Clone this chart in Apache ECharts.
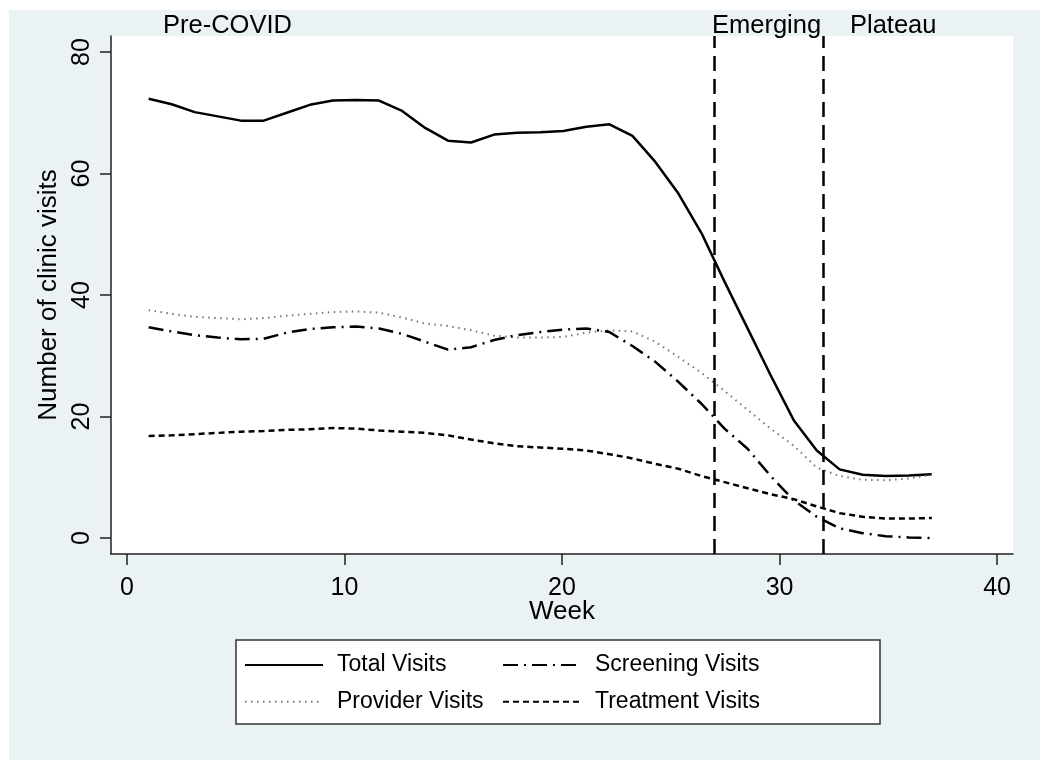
<!DOCTYPE html>
<html>
<head>
<meta charset="utf-8">
<title>Clinic visits by week</title>
<style>
    html, body { margin: 0; padding: 0; background: #fff; }
    #chart { width: 1050px; height: 769px; }
</style>
</head>
<body>
<div id="chart"></div>
<script src="https://cdn.jsdelivr.net/npm/echarts@6/dist/echarts.min.js"></script>
<script>
    // weeks (points are roughly 1.06 weeks apart)
    const weeks = [1.0, 2.06, 3.12, 4.18, 5.24, 6.29, 7.35, 8.41, 9.47, 10.53,
        11.59, 12.65, 13.71, 14.76, 15.82, 16.88, 17.94, 19.0, 20.06, 21.12,
        22.18, 23.24, 24.29, 25.35, 26.41, 27.47, 28.53, 29.59, 30.65, 31.71,
        32.76, 33.82, 34.88, 35.94, 37.0];

    const totalVisits = [72.3, 71.4, 70.1, 69.4, 68.7, 68.7, 70.0, 71.3, 72.0, 72.1,
        72.0, 70.3, 67.5, 65.4, 65.1, 66.4, 66.7, 66.8, 67.0, 67.7,
        68.1, 66.2, 61.9, 56.7, 50.2, 42.2, 34.5, 26.8, 19.4, 14.4,
        11.3, 10.4, 10.2, 10.3, 10.5];

    const providerVisits = [37.5, 36.9, 36.4, 36.2, 36.0, 36.2, 36.6, 36.9, 37.2, 37.3,
        37.1, 36.3, 35.3, 34.9, 34.2, 33.3, 33.0, 33.0, 33.1, 33.8,
        34.2, 34.0, 32.3, 29.8, 27.2, 24.2, 21.1, 18.0, 15.2, 11.6,
        10.2, 9.6, 9.5, 9.8, 10.4];

    const screeningVisits = [34.7, 34.0, 33.4, 33.0, 32.7, 32.8, 33.8, 34.4, 34.7, 34.8,
        34.5, 33.6, 32.3, 31.0, 31.4, 32.6, 33.4, 33.9, 34.3, 34.5,
        33.9, 31.6, 29.0, 25.7, 22.1, 18.0, 14.7, 10.2, 6.2, 3.5,
        1.6, 0.8, 0.3, 0.1, 0.0];

    const treatmentVisits = [16.8, 16.9, 17.1, 17.3, 17.5, 17.6, 17.8, 17.9, 18.1, 18.0,
        17.7, 17.5, 17.3, 16.9, 16.2, 15.6, 15.1, 14.9, 14.7, 14.4,
        13.8, 13.1, 12.2, 11.4, 10.2, 9.2, 8.2, 7.2, 6.4, 5.2,
        4.1, 3.5, 3.2, 3.2, 3.3];

    const xTicks = [0, 10, 20, 30, 40];
    const yTicks = [0, 20, 40, 60, 80];
    const phaseBreaks = [27, 32];

    const font = '"Liberation Sans", Arial, sans-serif';

    function pairs(ys) {
        return weeks.map((w, i) => [w, ys[i]]);
    }

    let myChart = echarts.init(document.getElementById('chart'));

    // the original legend uses a narrow face; a smaller size keeps the widths close
    let legendText = { fontFamily: font, fontSize: 23, lineHeight: 26, color: '#000', padding: [0, 0, 0, 9] };

    let option = {
        backgroundColor: '#ffffff',
        animation: false,
        grid: {
            left: 111,
            top: 36,
            right: 37,
            bottom: 215,
            show: true,
            backgroundColor: '#ffffff',
            borderWidth: 0
        },
        xAxis: {
            type: 'value',
            min: -0.73,
            max: 40.73,
            name: 'Week',
            nameLocation: 'middle',
            nameGap: 45,
            nameMoveOverlap: false,
            nameTextStyle: { fontFamily: font, fontSize: 26, color: '#000' },
            splitLine: { show: false },
            axisLine: { show: true, onZero: false, lineStyle: { color: '#222', width: 1.5 } },
            axisTick: { show: true, length: 11, customValues: xTicks, lineStyle: { color: '#222', width: 1.5 } },
            axisLabel: { customValues: xTicks, margin: 22, fontFamily: font, fontSize: 25, color: '#000' }
        },
        yAxis: {
            type: 'value',
            min: -2.63,
            max: 82.63,
            name: 'Number of clinic visits',
            nameLocation: 'middle',
            nameGap: 48,
            nameTextStyle: { fontFamily: font, fontSize: 26, color: '#000' },
            splitLine: { show: false },
            axisLine: { show: true, onZero: false, lineStyle: { color: '#222', width: 1.5 } },
            axisTick: { show: true, length: 11, customValues: yTicks, lineStyle: { color: '#222', width: 1.5 } },
            axisLabel: { customValues: yTicks, rotate: 90, margin: 16, fontFamily: font, fontSize: 25, color: '#000' }
        },
        legend: [{
            data: ['Total Visits', 'Provider Visits'],
            orient: 'vertical',
            left: 244,
            top: 652,
            padding: 0,
            z: 10,
            itemWidth: 78,
            itemHeight: 14,
            itemGap: 10.7,
            itemStyle: { opacity: 0 },
            textStyle: legendText
        }, {
            data: ['Screening Visits', 'Treatment Visits'],
            orient: 'vertical',
            left: 502,
            top: 652,
            padding: 0,
            z: 10,
            itemWidth: 78,
            itemHeight: 14,
            itemGap: 10.7,
            itemStyle: { opacity: 0 },
            textStyle: legendText
        }],
        graphic: [
            { type: 'rect', z: -100, silent: true, shape: { x: 9, y: 10, width: 1031, height: 750 }, style: { fill: '#eaf2f3' } },
            { type: 'rect', z: -50, silent: true, shape: { x: 236, y: 640, width: 644, height: 84 }, style: { fill: '#ffffff', stroke: '#333', lineWidth: 1.5 } },
            { type: 'text', z: 100, x: 163, y: 26, style: { text: 'Pre-COVID', font: '25.5px ' + font, fill: '#000', verticalAlign: 'middle' } },
            { type: 'text', z: 100, x: 712, y: 26, style: { text: 'Emerging', font: '25.5px ' + font, fill: '#000', verticalAlign: 'middle' } },
            { type: 'text', z: 100, x: 850, y: 26, style: { text: 'Plateau', font: '25.5px ' + font, fill: '#000', verticalAlign: 'middle' } }
        ],
        series: [{
            name: 'Total Visits',
            type: 'line',
            symbol: 'none',
            data: pairs(totalVisits),
            lineStyle: { color: '#000', width: 2.5 },
            itemStyle: { color: '#000' },
            markLine: {
                silent: true,
                symbol: 'none',
                label: { show: false },
                lineStyle: { color: '#000', width: 2.5, type: [15, 8] },
                data: phaseBreaks.map(v => ({ xAxis: v }))
            }
        }, {
            name: 'Provider Visits',
            type: 'line',
            symbol: 'none',
            data: pairs(providerVisits),
            lineStyle: { color: '#777', width: 2, type: [1.5, 4.5] },
            itemStyle: { color: '#777' }
        }, {
            name: 'Screening Visits',
            type: 'line',
            symbol: 'none',
            data: pairs(screeningVisits),
            lineStyle: { color: '#000', width: 2.5, type: [15, 6, 2, 6] },
            itemStyle: { color: '#000' }
        }, {
            name: 'Treatment Visits',
            type: 'line',
            symbol: 'none',
            data: pairs(treatmentVisits),
            lineStyle: { color: '#000', width: 2.5, type: [6, 4] },
            itemStyle: { color: '#000' }
        }]
    };

    myChart.setOption(option);
</script>
</body>
</html>
